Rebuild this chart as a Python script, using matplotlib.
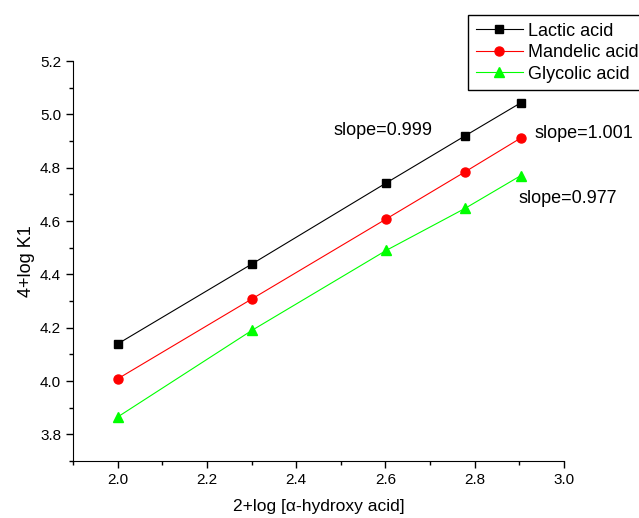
import matplotlib.pyplot as plt
from matplotlib.ticker import MultipleLocator

plt.rcParams['font.family'] = ['Liberation Sans', 'DejaVu Sans']

x = [2.0, 2.301, 2.602, 2.778, 2.903]
lactic = [4.139, 4.439, 4.743, 4.919, 5.043]
mandelic = [4.008, 4.308, 4.608, 4.784, 4.911]
glycolic = [3.865, 4.19, 4.49, 4.647, 4.77]

fig = plt.figure(figsize=(6.39, 5.18), dpi=100)
ax = fig.add_axes([73/639, 57/518, 491/639, 400/518])

ax.plot(x, lactic, color='black', marker='s', ms=5.5, lw=0.8, label='Lactic acid')
ax.plot(x, mandelic, color='red', marker='o', ms=6.5, lw=0.8, label='Mandelic acid')
ax.plot(x, glycolic, color='#00ff00', marker='^', ms=7.5, lw=0.8, label='Glycolic acid')

ax.text(2.4825, 4.941, 'slope=0.999', fontsize=13, va='center')
ax.text(2.933, 4.928, 'slope=1.001', fontsize=13, va='center')
ax.text(2.897, 4.686, 'slope=0.977', fontsize=13, va='center')

ax.set_xlim(1.9, 3.0)
ax.set_ylim(3.7, 5.2)
ax.xaxis.set_major_locator(MultipleLocator(0.2))
ax.xaxis.set_minor_locator(MultipleLocator(0.1))
ax.yaxis.set_major_locator(MultipleLocator(0.2))
ax.yaxis.set_minor_locator(MultipleLocator(0.1))
ax.xaxis.set_major_formatter(plt.FormatStrFormatter('%.1f'))
ax.yaxis.set_major_formatter(plt.FormatStrFormatter('%.1f'))
ax.tick_params(which='both', direction='out', labelsize=11, width=1)
ax.tick_params(which='major', length=5)
ax.tick_params(which='minor', length=3)
ax.spines['top'].set_visible(False)
ax.spines['right'].set_visible(False)

ax.set_xlabel('2+log [α-hydroxy acid]', fontsize=12.5, labelpad=9)
ax.set_ylabel('4+log K1', fontsize=13, labelpad=4)

leg = fig.legend(loc='upper left', bbox_to_anchor=(468/639, 1 - 15/518),
                 fontsize=13, numpoints=1, fancybox=False, framealpha=1,
                 edgecolor='black', borderpad=0.42, labelspacing=0.25,
                 borderaxespad=0, handlelength=2.6, handletextpad=0.3)
leg.get_frame().set_linewidth(1)

fig.savefig('out.png', dpi=100)
